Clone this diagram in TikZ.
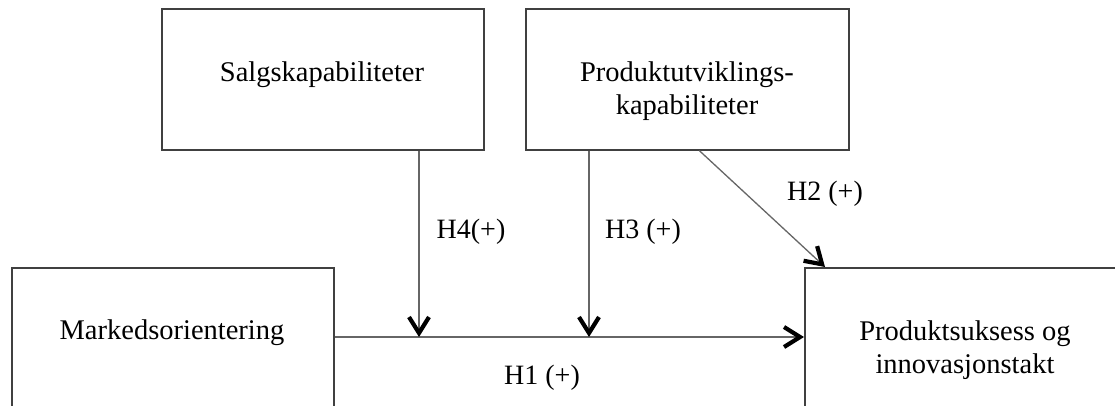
\documentclass[tikz,border=0pt]{standalone}
\usepackage{fontspec}
\setmainfont{Liberation Serif}
\usetikzlibrary{arrows.meta,calc}
\tikzset{
  tipbarb/.tip={Straight Barb[length=16pt,width=20pt,line width=4.2pt,color=black]},
}
\begin{document}
\begin{tikzpicture}[x=1pt,y=-1pt,
  box/.style={draw=black!75, line width=1.6pt, minimum width=322pt, minimum height=141pt, anchor=north west, inner sep=0pt},
  txt/.style={font=\fontsize{28.5}{33}\selectfont, align=center, anchor=north, inner sep=0pt},
  lab/.style={font=\fontsize{28}{32}\selectfont, inner sep=0pt},
  conn/.style={draw=black!60, line width=1.3pt, -tipbarb}]
\useasboundingbox (0,0) rectangle (1115,405);
\clip (0,0) rectangle (1115,405);
% boxes
\node[box] (sk) at (161,8) {};
\node[box, minimum width=323pt] (pu) at (525,8) {};
\node[box, minimum height=160pt] (mo) at (11,267) {};
\node[box, minimum width=330pt, minimum height=160pt] (ps) at (804,267) {};
% texts
\node[txt] (sktxt) at (322,62) {Salgskapabiliteter};
\node[txt] (putxt) at (687,62) {Produktutviklings-\\kapabiliteter};
\node[txt] (motxt) at (172,320) {Markedsorientering};
\node[txt] (pstxt) at (965,321) {Produktsuksess og\\innovasjonstakt};
% junctions
\coordinate (j4) at (419,337);
\coordinate (j3) at (589,337);
% connectors
\draw[conn] (mo.east |- j4) -- (ps.west |- j4);
\draw[conn] (sk.south -| j4) -- (j4);
\draw[conn] (pu.south -| j3) -- (j3);
\draw[conn] ($(pu.south)+(12,0)$) -- ($(ps.north west)+(21,0)$);
% labels
\node[lab] (h4) at (471,232) {H4(+)};
\node[lab] (h3) at (643,232) {H3 (+)};
\node[lab] (h2) at (825,194) {H2 (+)};
\node[lab] (h1) at (542,378) {H1 (+)};
\end{tikzpicture}
\end{document}
